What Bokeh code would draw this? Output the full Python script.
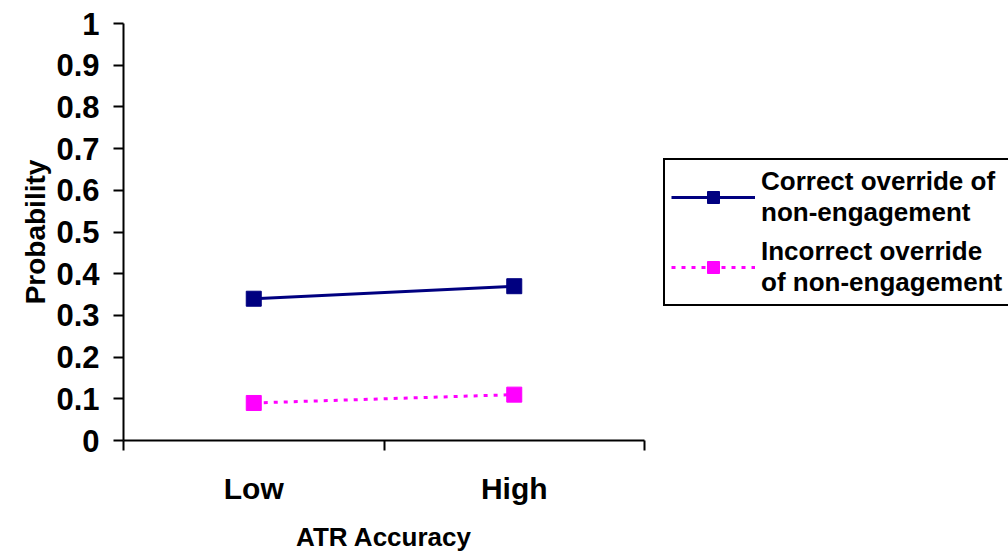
from bokeh.plotting import figure
from bokeh.models import FixedTicker, Range1d, Legend, LegendItem
from bokeh.embed import file_html
from bokeh.resources import INLINE

categories = ["Low", "High"]
correct_override = [0.34, 0.37]
incorrect_override = [0.09, 0.11]
y_ticks = [0, 0.1, 0.2, 0.3, 0.4, 0.5, 0.6, 0.7, 0.8, 0.9, 1.0]
y_tick_labels = ["0", "0.1", "0.2", "0.3", "0.4", "0.5", "0.6", "0.7", "0.8", "0.9", "1"]
series_names = ["Correct override of\nnon-engagement", "Incorrect override\nof non-engagement"]

FONT = "Liberation Sans"

x_pos = [i + 0.5 for i in range(len(categories))]

p = figure(frame_width=521, frame_height=417, output_backend="svg", toolbar_location=None,
           x_range=Range1d(0, len(categories)), y_range=Range1d(0, 1),
           min_border_left=123, min_border_right=0, min_border_top=23, min_border_bottom=104)
p.outline_line_color = None
p.grid.visible = False
p.background_fill_color = "white"
p.border_fill_color = "white"

r1 = p.line(x_pos, correct_override, line_color="#000080", line_width=3)
m1 = p.scatter(x_pos, correct_override, marker="square", size=15, fill_color="#000080", line_color="#000080")
r2 = p.line(x_pos, incorrect_override, line_color="#FF00FF", line_width=3, line_dash="4 6")
m2 = p.scatter(x_pos, incorrect_override, marker="square", size=15, fill_color="#FF00FF", line_color="#FF00FF")

# x axis
xa = p.xaxis[0]
xa.ticker = FixedTicker(ticks=x_pos, minor_ticks=list(range(len(categories) + 1)))
xa.major_label_overrides = {x: c for x, c in zip(x_pos, categories)}
xa.major_tick_out = 0
xa.major_tick_in = 0
xa.minor_tick_out = 10
xa.minor_tick_in = 0
xa.minor_tick_line_width = 2
xa.minor_tick_line_color = "black"
xa.axis_line_width = 2
xa.axis_line_color = "black"
xa.major_label_text_font = FONT
xa.major_label_text_font_style = "bold"
xa.major_label_text_font_size = "30px"
xa.major_label_text_color = "black"
xa.major_label_standoff = 21
xa.axis_label = "ATR Accuracy"
xa.axis_label_text_font = FONT
xa.axis_label_text_font_style = "bold"
xa.axis_label_text_font_size = "26px"
xa.axis_label_text_color = "black"
xa.axis_label_standoff = 14

# y axis
ya = p.yaxis[0]
ya.ticker = FixedTicker(ticks=y_ticks)
ya.major_label_overrides = {t: l for t, l in zip(y_ticks, y_tick_labels)}
ya.major_tick_out = 10
ya.major_tick_in = 0
ya.minor_tick_out = 0
ya.minor_tick_in = 0
ya.major_tick_line_width = 2
ya.axis_line_width = 2
ya.axis_line_color = "black"
ya.major_label_text_font = FONT
ya.major_label_text_font_style = "bold"
ya.major_label_text_font_size = "31px"
ya.major_label_text_color = "black"
ya.major_label_standoff = 14
ya.axis_label = "Probability"
ya.axis_label_text_font = FONT
ya.axis_label_text_font_style = "bold"
ya.axis_label_text_font_size = "28px"
ya.axis_label_text_color = "black"
ya.axis_label_standoff = 2

legend = Legend(items=[LegendItem(label=series_names[0], renderers=[r1, m1]),
                       LegendItem(label=series_names[1], renderers=[r2, m2])],
                location="left")
legend.label_text_font = FONT
legend.label_text_font_style = "bold"
legend.label_text_font_size = "26px"
legend.label_text_color = "black"
legend.border_line_color = "black"
legend.border_line_alpha = 1
legend.border_line_width = 2
legend.glyph_width = 84
legend.glyph_height = 30
legend.label_standoff = 6
legend.padding = 6
legend.spacing = 8
legend.margin = 19
legend.background_fill_alpha = 1
p.add_layout(legend, "right")

open("out.html", "w").write(file_html(p, INLINE))
